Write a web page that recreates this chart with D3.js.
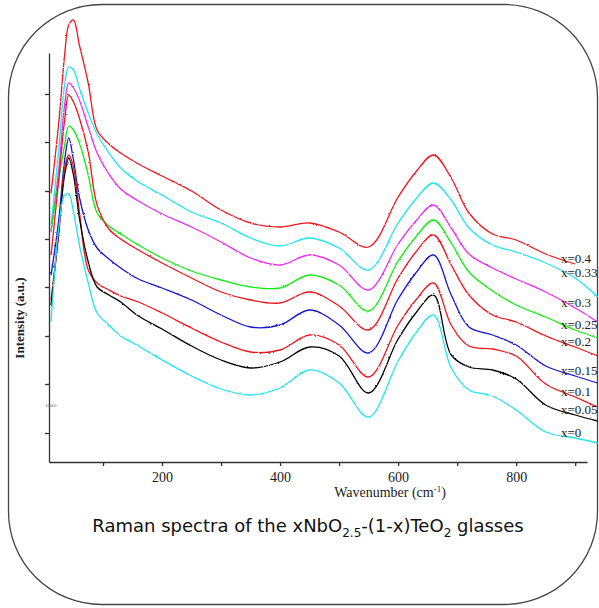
<!DOCTYPE html>
<meta charset="utf-8" />
<title>Raman spectra of xNbO2.5-(1-x)TeO2 glasses</title>
<style>
  body { margin: 0; background: #fff; }
  .axis path, .axis line { stroke: #333; stroke-width: 1.3; }
  .axis text { font-family: "Liberation Serif", "Times New Roman", serif; font-size: 14px; fill: #222; }
  .spectrum { fill: none; stroke-width: 1.3; stroke-linejoin: round; }
  .comp { font-family: "Liberation Serif", "Times New Roman", serif; font-size: 13px; fill: #222; }
</style>
<body>
<script src="https://cdn.jsdelivr.net/npm/d3@7"></script>
<script>
  // wavenumber grid (cm-1) the curves were read at
  var wavenumber = [12, 25, 35, 42, 50, 60, 75, 90, 110, 130, 160, 200, 250, 300, 350, 400, 450, 500, 550, 600, 630, 660, 690, 720, 760, 800, 850, 900, 938];

  // intensities (a.u., stacked as in the figure)
  var i_x040 = [288, 358, 426, 456, 461, 436, 398, 351, 337, 328, 317, 305, 290, 271, 258, 254, 258, 249, 234, 284, 309, 326, 303, 268, 247, 241, 227, 217, null];
  var i_x033 = [256, 331, 396, 414, 411, 393, 368, 347, 328, 313, 299, 286, 269, 258, 243, 235, 243, 233, 211, 258, 282, 298, 281, 253, 236, 229, 218, 203, 184];
  var i_x030 = [249, 311, 376, 398, 393, 381, 354, 328, 307, 292, 280, 267, 254, 239, 223, 216, 226, 216, 191, 237, 260, 276, 253, 227, 213, 202, 189, 173, 159];
  var i_x025 = [251, 301, 336, 355, 351, 338, 306, 268, 255, 247, 236, 223, 210, 201, 194, 193, 206, 196, 170, 220, 244, 261, 238, 209, 190, 176, 164, 151, 143];
  var i_x020 = [226, 301, 361, 386, 379, 363, 329, 276, 252, 242, 231, 218, 203, 189, 181, 178, 189, 175, 151, 203, 229, 246, 216, 186, 166, 159, 145, 134, 125];
  var i_x015 = [206, 261, 321, 343, 321, 284, 251, 233, 222, 213, 202, 193, 181, 166, 154, 156, 171, 156, 128, 182, 208, 226, 186, 154, 146, 136, 115, 105, 98];
  var i_x010 = [181, 246, 313, 326, 314, 269, 211, 198, 191, 185, 179, 168, 153, 139, 129, 131, 146, 136, 104, 156, 181, 198, 156, 135, 132, 125, 97, 84, 74];
  var i_x005 = [176, 251, 306, 323, 306, 263, 219, 194, 186, 179, 165, 152, 135, 121, 113, 119, 134, 125, 88, 142, 168, 186, 126, 114, 111, 102, 76, 66, 60];
  var i_x000 = [159, 253, 286, 287, 269, 236, 198, 168, 156, 145, 135, 121, 105, 92, 86, 93, 111, 98, 64, 120, 148, 166, 113, 91, 85, 71, 49, 43, 38];

  var compositions = ["x=0.4", "x=0.33", "x=0.3", "x=0.25", "x=0.2", "x=0.15", "x=0.1", "x=0.05", "x=0"];
  var intensities = [i_x040, i_x033, i_x030, i_x025, i_x020, i_x015, i_x010, i_x005, i_x000];
  var lineColors = ["#f0141c", "#20e6ee", "#f02cf0", "#10ee10", "#f0141c", "#1414d2", "#f0141c", "#000000", "#20e6ee"];

  var xTicks = [100, 200, 300, 400, 500, 600, 700, 800, 900];
  var yTicks = [48, 97, 145, 194, 242, 290, 339, 387];

  var width = 599, height = 608;

  var svg = d3.select("body").append("svg")
    .attr("width", width)
    .attr("height", height);

  // a little detector noise look on the traces (pure styling)
  var filt = svg.append("defs").append("filter")
    .attr("id", "noisy")
    .attr("x", "-5%").attr("y", "-5%").attr("width", "110%").attr("height", "110%");
  filt.append("feTurbulence")
    .attr("type", "fractalNoise")
    .attr("baseFrequency", "0.6 0.9")
    .attr("numOctaves", 1)
    .attr("seed", 3)
    .attr("result", "turb");
  filt.append("feDisplacementMap")
    .attr("in", "SourceGraphic")
    .attr("in2", "turb")
    .attr("scale", 2.2)
    .attr("xChannelSelector", "R")
    .attr("yChannelSelector", "G");

  // rounded frame
  svg.append("rect")
    .attr("x", 8.5).attr("y", 4.5)
    .attr("width", 589).attr("height", 600)
    .attr("rx", 93).attr("ry", 93)
    .attr("fill", "none")
    .attr("stroke", "#444")
    .attr("stroke-width", 1.3);

  var x = d3.scaleLinear().domain([8.5, 920]).range([49, 587]);
  var y = d3.scaleLinear().domain([19, 428]).range([462, 53]);

  svg.append("g")
    .attr("class", "axis")
    .attr("transform", "translate(0," + y.range()[0] + ")")
    .call(d3.axisBottom(x).tickValues(xTicks).tickSize(4).tickSizeOuter(0).tickPadding(6)
      .tickFormat(function(d) { return d % 200 === 0 ? d : ""; }));

  svg.append("g")
    .attr("class", "axis")
    .attr("transform", "translate(" + x.range()[0] + ",0)")
    .call(d3.axisLeft(y).tickValues(yTicks).tickSize(4).tickSizeOuter(0).tickFormat(""));

  // stray tiny label left on the original axis
  svg.append("text")
    .attr("x", x.range()[0] + 2).attr("y", y(75))
    .attr("text-anchor", "middle")
    .attr("dy", "0.35em")
    .style("font-family", "Liberation Sans, sans-serif")
    .style("font-size", "4px")
    .style("fill", "#666")
    .text("10000");

  var line = d3.line()
    .defined(function(d) { return d[1] != null; })
    .x(function(d) { return x(d[0]); })
    .y(function(d) { return y(d[1]); })
    .curve(d3.curveCatmullRom.alpha(0.5));

  intensities.forEach(function(vals, i) {
    var pts = wavenumber.map(function(w, j) { return [w, vals[j]]; });
    svg.append("path")
      .attr("class", "spectrum")
      .attr("d", line(pts))
      .attr("stroke", lineColors[i])
      .attr("filter", "url(#noisy)");

    // composition label next to the tail of each curve
    var at900 = vals[wavenumber.indexOf(900)];
    svg.append("text")
      .attr("class", "comp")
      .attr("x", x(876))
      .attr("y", y(at900) - 6)
      .attr("dy", "0.35em")
      .text(compositions[i]);
  });

  // axis titles
  var xt = svg.append("text")
    .attr("x", 390).attr("y", 497)
    .attr("text-anchor", "middle")
    .style("font-family", "Liberation Serif, serif")
    .style("font-size", "14px")
    .style("fill", "#222");
  xt.append("tspan").text("Wavenumber (cm");
  xt.append("tspan").attr("dy", -5).style("font-size", "9px").text("-1");
  xt.append("tspan").attr("dy", 5).text(")");

  svg.append("text")
    .attr("transform", "translate(19,318) rotate(-90)")
    .attr("text-anchor", "middle")
    .attr("dy", "0.35em")
    .style("font-family", "Liberation Serif, serif")
    .style("font-size", "13px")
    .style("font-weight", "bold")
    .style("fill", "#222")
    .text("Intensity (a.u.)");

  // caption
  var cap = svg.append("text")
    .attr("x", 308).attr("y", 532)
    .attr("text-anchor", "middle")
    .style("font-family", "'Comic Sans MS', 'DejaVu Sans', sans-serif")
    .style("font-size", "18px")
    .style("fill", "#111");
  cap.append("tspan").text("Raman spectra of the xNbO");
  cap.append("tspan").attr("dy", 5).style("font-size", "12px").text("2.5");
  cap.append("tspan").attr("dy", -5).text("-(1-x)TeO");
  cap.append("tspan").attr("dy", 5).style("font-size", "12px").text("2");
  cap.append("tspan").attr("dy", -5).text(" glasses");
</script>
</body>
